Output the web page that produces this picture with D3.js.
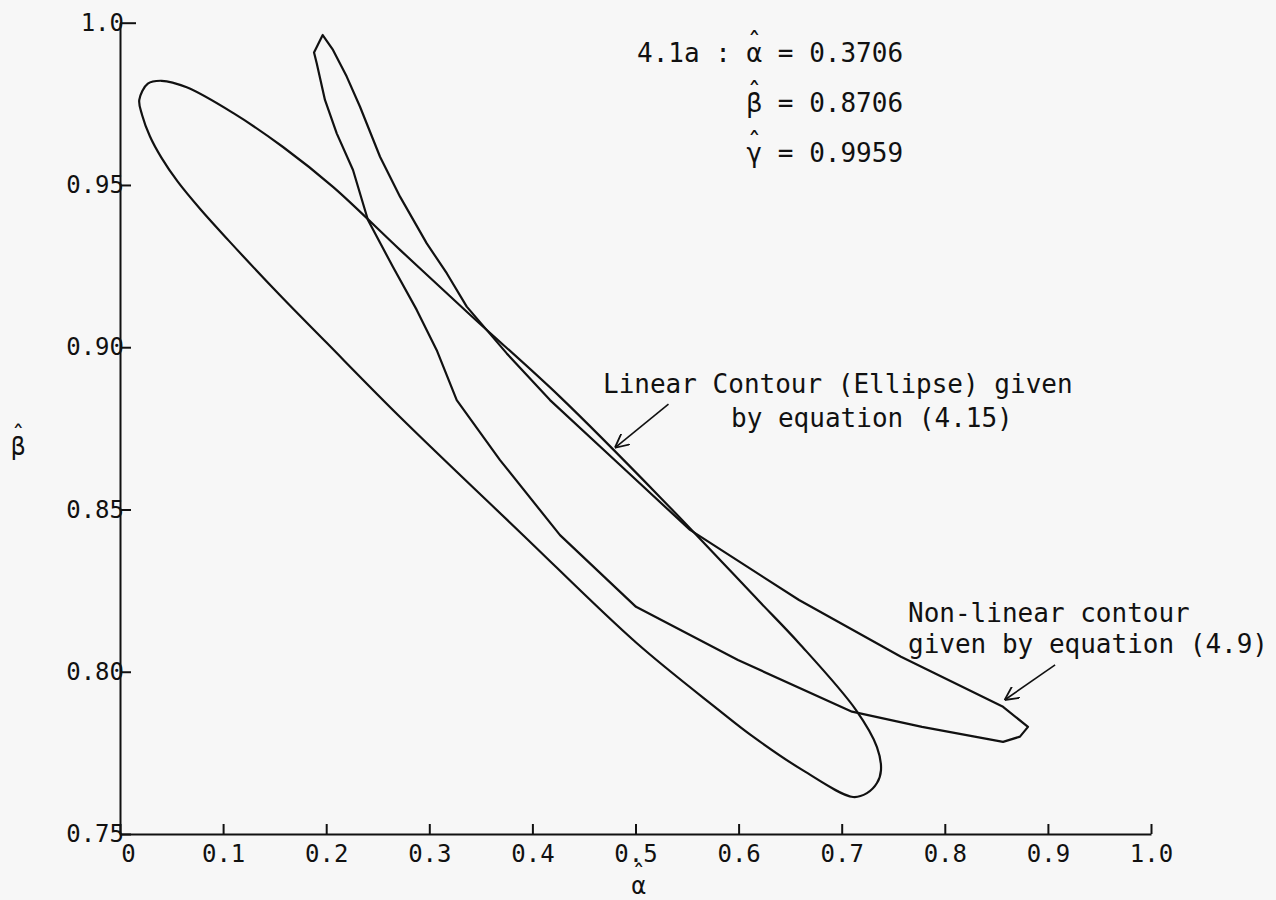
<!DOCTYPE html>
<meta charset="utf-8">
<style>
body { margin: 0; background: #f7f7f7; }
svg { display: block; }
text { font-family: "DejaVu Sans Mono", monospace; fill: #111; }
.axis path, .axis line { stroke: #111; stroke-width: 2; }
.axis text { font-size: 24px; font-family: "DejaVu Sans Mono", monospace; fill: #111; }
.contour { fill: none; stroke: #111; stroke-width: 2.2; stroke-linejoin: round; }
.note { font-size: 26px; }
</style>
<svg width="1276" height="900"></svg>
<script src="https://cdn.jsdelivr.net/npm/d3@7"></script>
<script>

var svg = d3.select("svg");

// tick values and labels
var xTicks = [0, 0.1, 0.2, 0.3, 0.4, 0.5, 0.6, 0.7, 0.8, 0.9, 1.0];
var xTickLabels = ["0", "0.1", "0.2", "0.3", "0.4", "0.5", "0.6", "0.7", "0.8", "0.9", "1.0"];
var yTicks = [0.75, 0.80, 0.85, 0.90, 0.95, 1.0];
var yTickLabels = ["0.75", "0.80", "0.85", "0.90", "0.95", "1.0"];

// linear contour (ellipse), eq. 4.15 -- [alpha, beta]
var ellipse = [
  [0.0187, 0.9762], [0.0270, 0.9812], [0.0404, 0.9821], [0.0647, 0.9801],
  [0.1096, 0.9722], [0.1581, 0.9617], [0.2066, 0.9494], [0.2716, 0.9300],
  [0.3395, 0.9100], [0.4268, 0.8847], [0.5238, 0.8538], [0.6188, 0.8221],
  [0.6586, 0.8088], [0.7139, 0.7882], [0.7342, 0.7768], [0.7381, 0.7697],
  [0.7342, 0.7657], [0.7245, 0.7626], [0.7110, 0.7614], [0.6625, 0.7696],
  [0.6140, 0.7800], [0.5796, 0.7885], [0.5005, 0.8090], [0.3880, 0.8430],
  [0.2716, 0.8785], [0.2000, 0.9015], [0.1552, 0.9160], [0.1050, 0.9330],
  [0.0780, 0.9425], [0.0560, 0.9510], [0.0400, 0.9585], [0.0290, 0.9650],
  [0.0215, 0.9715]
];

// non-linear contour, eq. 4.9
var nonLinear = [
  [0.1966, 0.9962], [0.1882, 0.9908], [0.1908, 0.9875], [0.1988, 0.9762],
  [0.2102, 0.9659], [0.2260, 0.9546], [0.2405, 0.9392], [0.2648, 0.9247],
  [0.2878, 0.9115], [0.3072, 0.8991], [0.3266, 0.8837], [0.3686, 0.8652],
  [0.4268, 0.8421], [0.5005, 0.8200], [0.5994, 0.8036], [0.7100, 0.7877],
  [0.7779, 0.7830], [0.8565, 0.7784], [0.8729, 0.7800], [0.8807, 0.7830],
  [0.8565, 0.7892], [0.7575, 0.8046], [0.6586, 0.8221], [0.5529, 0.8437],
  [0.4850, 0.8637], [0.4171, 0.8837], [0.3751, 0.8981], [0.3363, 0.9125],
  [0.3169, 0.9228], [0.2975, 0.9320], [0.2716, 0.9464], [0.2522, 0.9587],
  [0.2328, 0.9741], [0.2199, 0.9834], [0.2066, 0.9916]
];

// estimates shown in the corner
var estNames = ["α", "β", "γ"];
var estValues = ["0.3706", "0.8706", "0.9959"];

var x = d3.scaleLinear().domain([0, 1]).range([120, 1151]);
var y = d3.scaleLinear().domain([0.75, 1.0]).range([834, 22.7]);

// axes
var gx = svg.append("g")
    .attr("class", "axis")
    .attr("transform", "translate(0," + y(0.75) + ")")
    .call(d3.axisBottom(x)
      .tickValues(xTicks)
      .tickFormat(function(d, i) { return xTickLabels[i]; })
      .tickSizeInner(-10)
      .tickSizeOuter(0)
      .tickPadding(11));
gx.selectAll("text").attr("dx", function(d, i) { return i == 0 ? 8 : 0; });

var gy = svg.append("g")
    .attr("class", "axis")
    .attr("transform", "translate(" + x(0) + ",0)")
    .call(d3.axisLeft(y)
      .tickValues(yTicks)
      .tickFormat(function(d, i) { return yTickLabels[i]; })
      .tickSizeInner(-11)
      .tickSizeOuter(0)
      .tickPadding(-4));
gy.selectAll(".tick line").attr("x2", function(d) { return d == 1.0 ? 16 : 11; });

// hatted letter: hat and letter in one text element
function hatted(t, letter, rest, lift) {
  var x0 = +t.attr("x");
  t.append("tspan").attr("x", x0).attr("dy", -lift).text("ˆ");
  t.append("tspan").attr("x", x0).attr("dy", lift).text(letter + (rest || ""));
}

// axis titles
hatted(svg.append("text").attr("x", x(0.5) - 4).attr("y", 894).style("font-size", "24px"), "α", "", 12);
hatted(svg.append("text").attr("x", 11).attr("y", 455).style("font-size", "24px"), "β", "", 12);

// contours
var line = d3.line()
    .x(function(d) { return x(d[0]); })
    .y(function(d) { return y(d[1]); });

svg.append("path")
    .datum(ellipse)
    .attr("class", "contour")
    .attr("d", line.curve(d3.curveCatmullRomClosed.alpha(0.5)));

svg.append("path")
    .datum(nonLinear)
    .attr("class", "contour")
    .attr("d", line.curve(d3.curveLinearClosed));

// corner estimates
var cw = 15.65, x0 = 637;
svg.append("text").attr("class", "note").attr("x", x0).attr("y", 62).text("4.1a :");
estNames.forEach(function(n, i) {
  var t = svg.append("text").attr("class", "note").attr("x", x0 + 7 * cw).attr("y", 62 + i * 50);
  hatted(t, n, " = " + estValues[i], 10);
});

// annotations
svg.append("defs").append("marker")
    .attr("id", "head").attr("viewBox", "0 0 10 10")
    .attr("refX", 10).attr("refY", 5)
    .attr("markerWidth", 14).attr("markerHeight", 14)
    .attr("markerUnits", "userSpaceOnUse")
    .attr("orient", "auto")
  .append("path").attr("d", "M0,0 L10,5 L0,10").attr("fill", "none").attr("stroke", "#111").attr("stroke-width", 1.3);

svg.append("text").attr("class", "note").attr("x", 603).attr("y", 393).text("Linear Contour (Ellipse) given");
svg.append("text").attr("class", "note").attr("x", 731).attr("y", 427).text("by equation (4.15)");
svg.append("line")
    .attr("x1", x(0.532)).attr("y1", y(0.8825))
    .attr("x2", x(0.480)).attr("y2", y(0.8690))
    .attr("stroke", "#111").attr("stroke-width", 1.6).attr("marker-end", "url(#head)");

svg.append("text").attr("class", "note").attr("x", 908).attr("y", 622).text("Non-linear contour");
svg.append("text").attr("class", "note").attr("x", 908).attr("y", 653).text("given by equation (4.9)");
svg.append("line")
    .attr("x1", x(0.907)).attr("y1", y(0.8021))
    .attr("x2", x(0.858)).attr("y2", y(0.7913))
    .attr("stroke", "#111").attr("stroke-width", 1.6).attr("marker-end", "url(#head)");

</script>
